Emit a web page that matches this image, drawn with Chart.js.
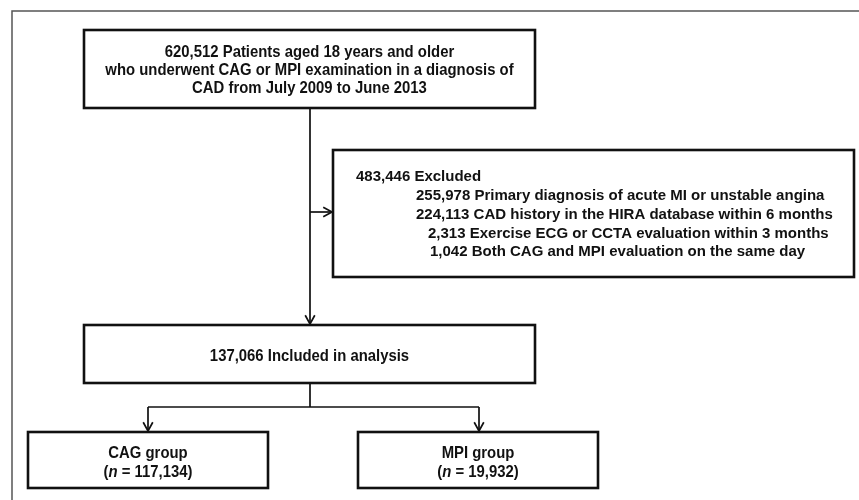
<!DOCTYPE html>
<html>
<head>
<meta charset="utf-8">
<style>
  html, body { margin: 0; padding: 0; background: #fff; }
  #wrap { width: 859px; height: 500px; }
</style>
<script src="https://cdn.jsdelivr.net/npm/chart.js@4.4.1/dist/chart.umd.min.js"></script>
</head>
<body>
<div id="wrap"><canvas id="flow" width="859" height="500"></canvas></div>
<script>
// Flow data (text + counts)
const screenedLines = [
    '620,512 Patients aged 18 years and older',
    'who underwent CAG or MPI examination in a diagnosis of',
    'CAD from July 2009 to June 2013'
];
const excludedTotal = '483,446';
const excludedTitle = 'Excluded';
const exclusionCounts = ['255,978', '224,113', '2,313', '1,042'];
const exclusionReasons = [
    'Primary diagnosis of acute MI or unstable angina',
    'CAD history in the HIRA database within 6 months',
    'Exercise ECG or CCTA evaluation within 3 months',
    'Both CAG and MPI evaluation on the same day'
];
const includedCount = '137,066';
const includedLabel = 'Included in analysis';
const groupNames = ['CAG group', 'MPI group'];
const groupCounts = ['117,134', '19,932'];

// Layout, in scale units (x 0..859, y 0..500 top-down)
const boxes = {
    screened: [84, 30, 535, 108],
    excluded: [333, 150, 854, 277],
    included: [84, 325, 535, 383],
    cag: [28, 432, 268, 488],
    mpi: [358, 432, 598, 488]
};
const connectors = [
    { pts: [[310, 108], [310, 324]], arrow: true },
    { pts: [[310, 212], [332, 212]], arrow: true },
    { pts: [[310, 383], [310, 407]], arrow: false },
    { pts: [[148, 407], [479, 407]], arrow: false },
    { pts: [[148, 407], [148, 431]], arrow: true },
    { pts: [[479, 407], [479, 431]], arrow: true }
];
const exclusionLineX = [416, 416, 428, 430];

const SANS = "'Liberation Sans', Arial, sans-serif";
const NARROW_SCALE = 0.875;   // fake a condensed face (Arial Narrow look)

const connectorSets = connectors.map(c => ({
    data: c.pts.map(p => ({ x: p[0], y: p[1] })),
    showLine: true,
    borderColor: '#111',
    borderWidth: 1.7,
    pointRadius: 0,
    fill: false
}));

// draw a list of [text, font] pieces, centred on cx, squeezed horizontally
function narrowText(ctx, pieces, cx, cy) {
    let total = 0;
    const widths = pieces.map(p => { ctx.font = p[1]; const w = ctx.measureText(p[0]).width; total += w; return w; });
    ctx.save();
    ctx.translate(cx, cy);
    ctx.scale(NARROW_SCALE, 1);
    ctx.textAlign = 'left';
    let x = -total / 2;
    pieces.forEach((p, i) => {
        ctx.font = p[1];
        ctx.fillText(p[0], x, 0);
        x += widths[i];
    });
    ctx.restore();
}

const flowPlugin = {
    id: 'flowBoxes',
    afterDatasetsDraw(chart) {
        const ctx = chart.ctx;
        const sx = chart.scales.x, sy = chart.scales.y;
        const px = v => sx.getPixelForValue(v);
        const py = v => sy.getPixelForValue(v);
        ctx.save();

        // outer frame (open to right and bottom)
        ctx.strokeStyle = '#555';
        ctx.lineWidth = 1.5;
        ctx.beginPath();
        ctx.moveTo(px(12), py(500));
        ctx.lineTo(px(12), py(11));
        ctx.lineTo(px(859), py(11));
        ctx.stroke();

        // boxes
        ctx.strokeStyle = '#111';
        ctx.lineWidth = 2.6;
        Object.values(boxes).forEach(b => {
            ctx.strokeRect(px(b[0]), py(b[1]), px(b[2]) - px(b[0]), py(b[3]) - py(b[1]));
        });

        // arrow heads
        ctx.lineWidth = 1.7;
        connectors.filter(c => c.arrow).forEach(c => {
            const a = c.pts[c.pts.length - 2], b = c.pts[c.pts.length - 1];
            const x2 = px(b[0]), y2 = py(b[1]);
            const ang = Math.atan2(y2 - py(a[1]), x2 - px(a[0]));
            ctx.beginPath();
            ctx.moveTo(x2 - 10 * Math.cos(ang - 0.5), y2 - 10 * Math.sin(ang - 0.5));
            ctx.lineTo(x2, y2);
            ctx.lineTo(x2 - 10 * Math.cos(ang + 0.5), y2 - 10 * Math.sin(ang + 0.5));
            ctx.stroke();
        });

        ctx.fillStyle = '#111';
        ctx.textBaseline = 'middle';
        const fb = 'bold 17px ' + SANS, fi = 'italic bold 17px ' + SANS;

        // screened box
        let b = boxes.screened;
        const cy1 = (b[1] + b[3]) / 2;
        screenedLines.forEach((t, i) => {
            narrowText(ctx, [[t, fb]], px((b[0] + b[2]) / 2), py(cy1 + (i - 1) * 18 + 1));
        });

        // excluded box
        b = boxes.excluded;
        ctx.font = 'bold 15px ' + SANS;
        ctx.textAlign = 'left';
        ctx.fillText(excludedTotal + ' ' + excludedTitle, px(b[0] + 23), py(177));
        exclusionCounts.forEach((n, i) => {
            ctx.fillText(n + ' ' + exclusionReasons[i], px(exclusionLineX[i]), py(196 + i * 18.7));
        });

        // included box
        b = boxes.included;
        narrowText(ctx, [[includedCount + ' ' + includedLabel, fb]], px((b[0] + b[2]) / 2), py((b[1] + b[3]) / 2 + 2));

        // group boxes, with italic n
        [boxes.cag, boxes.mpi].forEach((gb, i) => {
            const cx = px((gb[0] + gb[2]) / 2);
            const cy = (gb[1] + gb[3]) / 2;
            narrowText(ctx, [[groupNames[i], fb]], cx, py(cy - 7));
            narrowText(ctx, [['(', fb], ['n', fi], [' = ' + groupCounts[i] + ')', fb]], cx, py(cy + 12));
        });

        ctx.restore();
    }
};

new Chart(document.getElementById('flow').getContext('2d'), {
    type: 'scatter',
    data: { datasets: connectorSets },
    options: {
        responsive: false,
        animation: false,
        devicePixelRatio: 1,
        layout: { padding: 0 },
        plugins: { legend: { display: false }, tooltip: { enabled: false } },
        scales: {
            x: { type: 'linear', min: 0, max: 859, display: false },
            y: { type: 'linear', min: 0, max: 500, reverse: true, display: false }
        }
    },
    plugins: [flowPlugin]
});
</script>
</body>
</html>
